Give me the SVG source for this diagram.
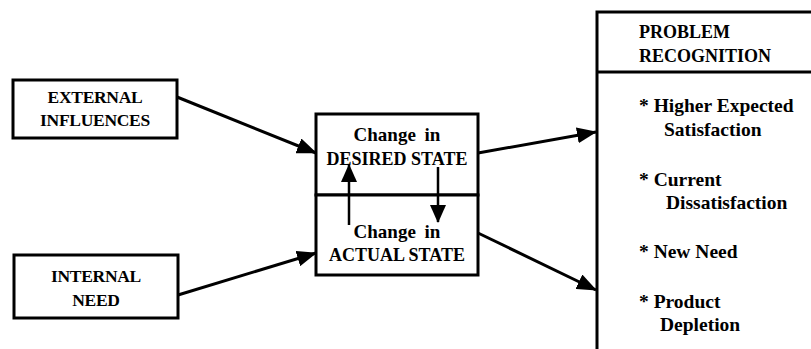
<svg xmlns="http://www.w3.org/2000/svg" width="811" height="349" viewBox="0 0 811 349">
<style>
.box{fill:#fff;stroke:#000;stroke-width:3}
.ln{fill:none;stroke:#000;stroke-width:3}
text{font-family:'Liberation Serif', 'Times New Roman', Times, serif;font-weight:bold;font-size:18px;fill:#000}
.c{text-anchor:middle}
.cap{font-size:17.5px;letter-spacing:-0.3px}
.lo{font-size:19.5px}
.ch{font-size:19px;word-spacing:4px}
.con{fill:none;stroke:#000;stroke-width:3}
.thin{fill:none;stroke:#000;stroke-width:2.5}
</style>
<defs>
<marker id="ah" markerUnits="userSpaceOnUse" markerWidth="20" markerHeight="16" refX="19" refY="8" orient="auto">
<path d="M0,0 L20,8 L0,16 Z" fill="#000"/>
</marker>
<marker id="ahs" markerUnits="userSpaceOnUse" markerWidth="18" markerHeight="16" refX="17" refY="8" orient="auto">
<path d="M0,0 L18,8 L0,16 Z" fill="#000"/>
</marker>
</defs>
<g id="external">
<rect class="box" x="13" y="80" width="164" height="58"/>
<text class="c cap" x="95" y="103">EXTERNAL</text>
<text class="c cap" x="95" y="126">INFLUENCES</text>
</g>
<g id="internal">
<rect class="box" x="14" y="255" width="164" height="63"/>
<text class="c cap" x="96" y="282">INTERNAL</text>
<text class="c cap" x="96" y="306">NEED</text>
</g>
<g id="desired">
<rect class="box" x="316" y="114" width="162" height="81"/>
<text class="c ch" x="397" y="141">Change in</text>
<text class="c" x="397" y="165">DESIRED STATE</text>
</g>
<g id="actual">
<rect class="box" x="316" y="195" width="162" height="80"/>
<text class="c ch" x="397" y="238">Change in</text>
<text class="c" x="397" y="261">ACTUAL STATE</text>
</g>
<g id="problem">
<path class="ln" d="M811,12 H597 V349 M597,72 H811"/>
<text x="639" y="38">PROBLEM</text>
<text x="639" y="62">RECOGNITION</text>
<text class="lo" x="639" y="112">* Higher Expected</text>
<text class="lo" x="664" y="136">Satisfaction</text>
<text class="lo" x="639" y="186">* Current</text>
<text class="lo" x="666" y="209">Dissatisfaction</text>
<text class="lo" x="639" y="258">* New Need</text>
<text class="lo" x="639" y="308">* Product</text>
<text class="lo" x="660" y="331">Depletion</text>
</g>
<g id="connectors">
<line class="con" x1="177" y1="97" x2="316" y2="153" marker-end="url(#ah)"/>
<line class="con" x1="178" y1="295" x2="316" y2="253" marker-end="url(#ah)"/>
<line class="con" x1="478" y1="153" x2="596" y2="132" marker-end="url(#ah)"/>
<line class="con" x1="478" y1="233" x2="596" y2="290" marker-end="url(#ah)"/>
<line class="thin" x1="349" y1="225" x2="349" y2="165" marker-end="url(#ahs)"/>
<line class="thin" x1="438" y1="167" x2="438" y2="222" marker-end="url(#ahs)"/>
</g>
</svg>
